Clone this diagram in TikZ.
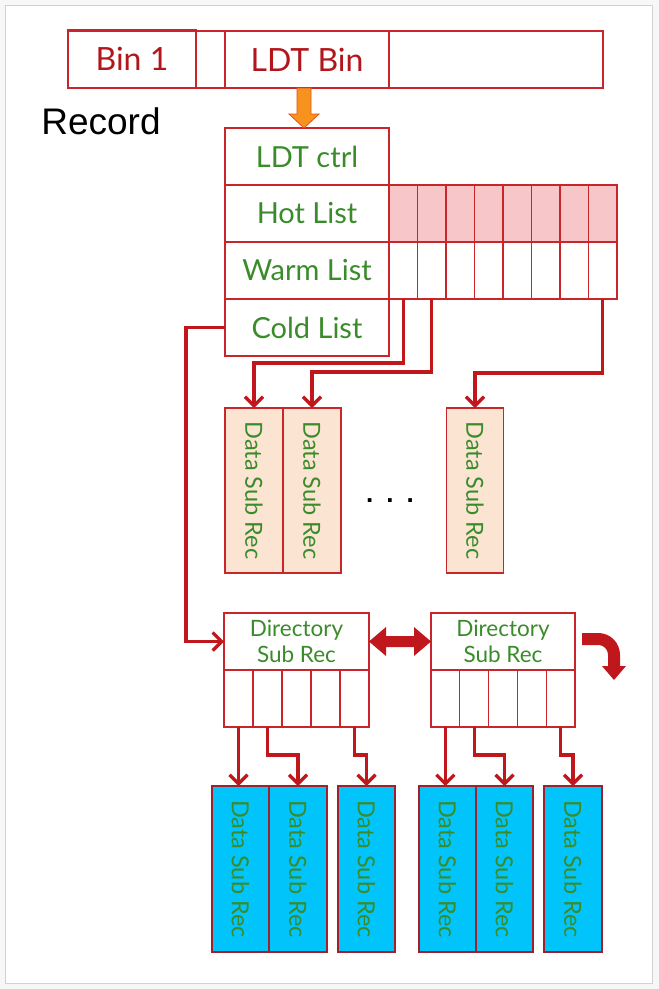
\documentclass[tikz,border=0pt]{standalone}
\usepackage{fontspec}
\usepackage{graphicx}
\setmainfont{Lato}
\newfontfamily\arialf{Liberation Sans}
\usetikzlibrary{arrows.meta,calc}
\definecolor{conred}{HTML}{C0171D}
\definecolor{boxred}{HTML}{C8262B}
\definecolor{txtred}{HTML}{B2161C}
\definecolor{txtgreen}{HTML}{3A8C2B}
\definecolor{peach}{HTML}{FCE4D2}
\definecolor{hotpink}{HTML}{F6C6C9}
\definecolor{cyanbox}{HTML}{00C4FA}
\definecolor{blueedge}{HTML}{A0202C}
\definecolor{orangea}{HTML}{F7921E}
\definecolor{orangeedge}{HTML}{E5531E}
\begin{document}
\begin{tikzpicture}[x=1pt,y=-1pt,
 box/.style={draw=boxred, line width=1.2pt, inner sep=0pt, outer sep=0pt},
 redlbl/.style={text=txtred, font=\fontsize{32}{34}\selectfont},
 grnlbl/.style={text=txtgreen, font=\fontsize{29}{31}\selectfont},
 grnsm/.style={text=txtgreen, font=\fontsize{23.5}{25}\selectfont},
 grndir/.style={text=txtgreen, font=\fontsize{22.5}{26.5}\selectfont, align=center},
 conn/.style={draw=conred, line width=3.2pt, line join=miter, -{Straight Barb[length=9pt,width=18pt]}},
]
% page frame
\fill[gray!6] (0,0) rectangle (659,989);
\draw[gray!35, line width=0.8pt, fill=white] (5,5) rectangle (652,983);
\useasboundingbox (0,0) rectangle (659,989);

% record bar
\node[box, minimum width=535pt, minimum height=57pt] (rec) at (335.5,59.5) {};
\node[box, line width=1.8pt, minimum width=128pt, minimum height=58pt, redlbl] (bin1) at (132,59) {Bin 1};
\node[box, minimum width=164pt, minimum height=57pt, redlbl] (ldtbin) at (307,59.5) {LDT Bin};
\node[font=\arialf\fontsize{37}{40}\selectfont] (record) at (101,121) {Record};

% LDT control block
\node[box, grnlbl, minimum width=164pt, minimum height=57pt] (ctrl) at (307,156.5) {LDT ctrl};
\node[box, grnlbl, minimum width=164pt, minimum height=57pt] (hot) at (307,213.5) {Hot List};
\node[box, grnlbl, minimum width=164pt, minimum height=57pt] (warm) at (307,270.5) {Warm List};
\node[box, grnlbl, minimum width=164pt, minimum height=57pt] (cold) at (307,327.5) {Cold List};

\foreach \i in {1,...,8} {
  \node[box, fill=hotpink, minimum width=28.5pt, minimum height=57pt] (h\i) at ({389+28.5*(\i-0.5)},213.5) {};
  \node[box, minimum width=28.5pt, minimum height=57pt] (w\i) at ({389+28.5*(\i-0.5)},270.5) {};
}

% orange arrow
\filldraw[fill=orangea, draw=orangeedge, line width=0.8pt]
  ($(ldtbin.south)+(-10,0)$) -- ($(ctrl.north)+(-10,-14)$) -- ($(ctrl.north)+(-18,-14)$)
  -- ($(ctrl.north)+(-3,0)$) -- ($(ctrl.north)+(12,-14)$) -- ($(ctrl.north)+(4,-14)$)
  -- ($(ldtbin.south)+(4,0)$) -- cycle;

% warm list data sub records
\node[box, fill=peach, minimum width=58pt, minimum height=165pt, grnsm] (d1) at (254,490.5) {\rotatebox{-90}{Data Sub Rec}};
\node[box, fill=peach, minimum width=58pt, minimum height=165pt, grnsm] (d2) at (312,490.5) {\rotatebox{-90}{Data Sub Rec}};
\node[box, fill=peach, minimum width=57pt, minimum height=165pt, grnsm] (d3) at (475,490.5) {\rotatebox{-90}{Data Sub Rec}};
\node[font=\arialf\bfseries\fontsize{26}{26}\selectfont] (dots) at (390,501) {.\hspace{13pt}.\hspace{13pt}.};

\draw[conn] (w1.south) |- ($(d1.north)+(0,-45)$) -- (d1.north);
\draw[conn] (w2.south) |- ($(d2.north)+(0,-36)$) -- (d2.north);
\draw[conn] (w8.south) |- ($(d3.north)+(0,-35)$) -- (d3.north);

% directory sub records
\node[box, grndir, minimum width=145pt, minimum height=57pt] (dir1) at (296.5,641.5) {Directory\\Sub Rec};
\node[box, grndir, minimum width=144pt, minimum height=57pt] (dir2) at (503,641.5) {Directory\\Sub Rec};
\foreach \i in {1,...,5} {
  \node[box, minimum width=29pt, minimum height=57pt] (p\i) at ({224+29*(\i-0.5)},698.5) {};
  \node[box, minimum width=28.8pt, minimum height=57pt] (q\i) at ({431+28.8*(\i-0.5)},698.5) {};
}

\draw[conn] (cold.west) -| ($(dir1.west)+(-38,0)$) -- (dir1.west);

% double arrow between directories
\fill[conred] (dir1.east) -- ($(dir1.east)+(17,-14.5)$) -- ($(dir1.east)+(17,-5.5)$)
  -- ($(dir2.west)+(-17,-5.5)$) -- ($(dir2.west)+(-17,-14.5)$) -- (dir2.west)
  -- ($(dir2.west)+(-17,14.5)$) -- ($(dir2.west)+(-17,5.5)$)
  -- ($(dir1.east)+(17,5.5)$) -- ($(dir1.east)+(17,14.5)$) -- cycle;

% curved arrow to the next directory
\coordinate (cv) at ($(dir2.east)+(7,-2.5)$);
\draw[conred, line width=12pt] (cv) -- ($(cv)+(16,0)$)
  .. controls ($(cv)+(25,0)$) and ($(cv)+(32,7)$) .. ($(cv)+(32,16)$) -- ($(cv)+(32,28)$);
\fill[conred] ($(cv)+(20,27)$) -- ($(cv)+(44,27)$) -- ($(cv)+(32,41)$) -- cycle;

% blue data sub records
\foreach \n/\x/\w in {k1/240.5/57, k2/298/58, k3/366.5/57, k4/447.5/57, k5/504.5/57, k6/573/58} {
  \node[box, draw=blueedge, fill=cyanbox, minimum width=\w pt, minimum height=166pt, grnsm] (\n) at (\x,869) {\rotatebox{-90}{Data Sub Rec}};
}

\draw[conn] (p1.south) -- (p1.south |- k1.north);
\draw[conn] (p2.south) |- ($(k2.north)+(0,-31)$) -- (k2.north);
\draw[conn] (p5.south) |- ($(k3.north)+(0,-31)$) -- (k3.north);
\draw[conn] (q1.south) -- (q1.south |- k4.north);
\draw[conn] (q2.south) |- ($(k5.north)+(0,-31)$) -- (k5.north);
\draw[conn] (q5.south) |- ($(k6.north)+(0,-31)$) -- (k6.north);
\end{tikzpicture}
\end{document}
